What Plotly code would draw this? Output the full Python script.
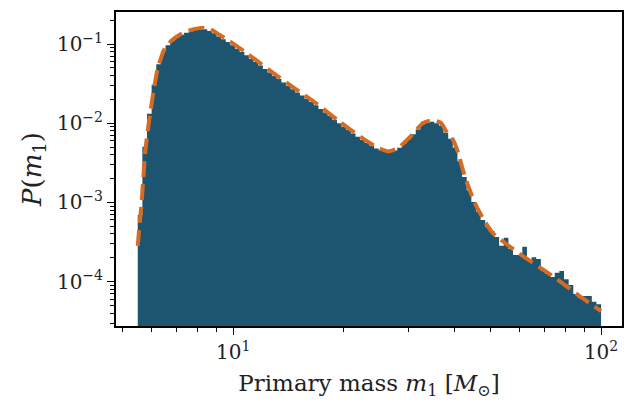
import numpy as np
import plotly.graph_objects as go

# ---------------- data ----------------
m_min, m_max, n_bins = 5.5, 100.0, 100   # histogram bin grid (log-spaced)

# log10 of histogram density in each of the 100 bins
hist_log10 = [
    -3.158, -2.298, -1.881, -1.515, -1.255, -1.091, -1.015, -0.957, -0.915, -0.884,
    -0.857, -0.838, -0.824, -0.815, -0.813, -0.836, -0.865, -0.904, -0.939, -0.975,
    -1.015, -1.058, -1.099, -1.142, -1.185, -1.228, -1.271, -1.315, -1.358, -1.401,
    -1.442, -1.485, -1.527, -1.570, -1.611, -1.651, -1.692, -1.733, -1.774, -1.819,
    -1.865, -1.910, -1.956, -2.000, -2.043, -2.086, -2.129, -2.172, -2.211, -2.248,
    -2.284, -2.320, -2.341, -2.364, -2.364, -2.343, -2.310, -2.255, -2.202, -2.140,
    -2.078, -2.014, -1.997, -1.982, -1.999, -2.027, -2.119, -2.195, -2.305, -2.480,
    -2.678, -2.847, -2.994, -3.115, -3.221, -3.310, -3.360, -3.436, -3.546, -3.445,
    -3.588, -3.664, -3.664, -3.559, -3.740, -3.693, -3.714, -3.866, -3.904, -3.942,
    -3.888, -3.866, -3.971, -4.043, -4.157, -4.207, -4.182, -4.182, -4.254, -4.287,
]

# model curve (dashed line)
model_m = [5.50, 5.57, 5.63, 5.69, 5.77, 5.89, 6.05, 6.24, 6.51, 6.79,
           7.15, 7.60, 8.09, 8.45, 8.83, 9.17, 9.75, 10.84, 12.51, 14.62,
           16.87, 19.34, 22.18, 24.50, 26.41, 28.10, 30.27, 32.83, 34.72, 36.72,
           37.87, 39.56, 40.81, 42.10, 43.43, 45.37, 47.66, 50.75, 55.71, 61.16,
           69.27, 78.45, 88.85, 100.0]
model_p = [2.82e-4, 5.66e-4, 9.29e-4, 1.92e-3, 4.61e-3, 9.82e-3, 0.0229, 0.0502, 0.0872, 0.110,
           0.131, 0.149, 0.159, 0.161, 0.147, 0.131, 0.110, 0.0776, 0.0473, 0.0280,
           0.0176, 0.0107, 6.73e-3, 5.03e-3, 4.41e-3, 4.89e-3, 6.73e-3, 0.0101, 0.0109, 0.0101,
           8.02e-3, 6.17e-3, 4.35e-3, 2.58e-3, 1.66e-3, 9.86e-4, 6.37e-4, 4.11e-4, 2.90e-4, 2.11e-4,
           1.44e-4, 9.6e-5, 6.21e-5, 4.25e-5]

x_major = [10, 100]
x_major_text = ["10<sup>1</sup>", "10<sup>2</sup>"]
x_minor = [5, 6, 7, 8, 9, 20, 30, 40, 50, 60, 70, 80, 90]
y_major = [1e-1, 1e-2, 1e-3, 1e-4]
y_major_text = ["10<sup>−1</sup>", "10<sup>−2</sup>", "10<sup>−3</sup>", "10<sup>−4</sup>"]
y_minor = [k * 10.0 ** e for e in (-5, -4, -3, -2, -1) for k in range(2, 10)]

# ---------------- build figure ----------------
edges = np.geomspace(m_min, m_max, n_bins + 1)
vals = 10.0 ** np.array(hist_log10)
hx, hy = [], []
for i in range(n_bins):
    hx += [edges[i], edges[i + 1]]
    hy += [vals[i], vals[i]]
floor = 1e-8
hx = [edges[0]] + hx + [edges[-1], edges[0]]
hy = [floor] + hy + [floor, floor]

fill_color = "#1d5470"
line_color = "#d66b22"
font_family = "DejaVu Serif, Liberation Serif, serif"

fig = go.Figure()
fig.add_trace(go.Scatter(x=hx, y=hy, mode="lines", fill="toself",
                         fillcolor=fill_color, line=dict(width=0, color=fill_color),
                         hoverinfo="skip", showlegend=False))
fig.add_trace(go.Scatter(x=model_m, y=model_p, mode="lines",
                         line=dict(color=line_color, width=4, dash="16px,7px", shape="spline", smoothing=0.6),
                         showlegend=False))

axis_common = dict(type="log", showgrid=False, zeroline=False, showline=True, linecolor="black",
                   linewidth=2, mirror=True, ticks="outside", ticklen=7, tickwidth=1.3,
                   tickcolor="black", tickfont=dict(family=font_family, size=20, color="#222"))

fig.update_xaxes(**axis_common, range=[np.log10(4.8), np.log10(114)],
                 tickmode="array", tickvals=x_major, ticktext=x_major_text,
                 minor=dict(tickmode="array", tickvals=x_minor, ticks="outside", ticklen=4,
                            tickwidth=1, tickcolor="black", showgrid=False),
                 title=dict(text="Primary mass <i>m</i><sub>1</sub> [<i>M</i><sub>⊙</sub>]",
                            font=dict(family=font_family, size=23, color="#222"), standoff=12))
fig.update_yaxes(**axis_common, range=[np.log10(2.75e-5), np.log10(0.254)],
                 tickmode="array", tickvals=y_major, ticktext=y_major_text,
                 minor=dict(tickmode="array", tickvals=y_minor, ticks="outside", ticklen=4,
                            tickwidth=1, tickcolor="black", showgrid=False),
                 title=dict(text="<i>P</i>(<i>m</i><sub>1</sub>)",
                            font=dict(family=font_family, size=26, color="#222"), standoff=8))

fig.update_layout(width=626, height=403, margin=dict(l=116, r=2, t=12, b=77),
                  paper_bgcolor="white", plot_bgcolor="white")

fig.write_html("out.html")
